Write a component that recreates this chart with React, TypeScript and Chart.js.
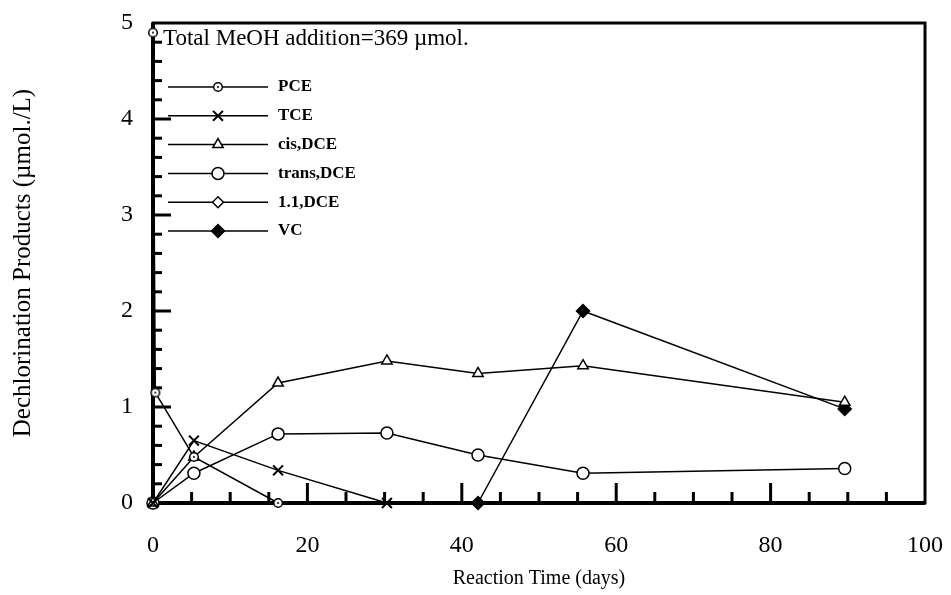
import React, { useEffect, useRef } from 'react';
import { Chart, registerables } from 'chart.js';
import { drawPoint } from 'chart.js/helpers';

Chart.register(...registerables);

// ---- data ----
const pceDays = [0, 0.3, 5.3, 16.2];
const pceValues = [4.9, 1.15, 0.48, 0];
const tceDays = [0, 5.3, 16.2, 30.3];
const tceValues = [0, 0.65, 0.34, 0];
const cisDays = [0, 5.3, 16.2, 30.3, 42.1, 55.7, 89.6];
const cisValues = [0, 0.48, 1.25, 1.48, 1.35, 1.43, 1.05];
const transDays = [0, 5.3, 16.2, 30.3, 42.1, 55.7, 89.6];
const transValues = [0, 0.31, 0.72, 0.73, 0.5, 0.31, 0.36];
const dce11Days = [0];
const dce11Values = [0];
const vcDays = [42.1, 55.7, 89.6];
const vcValues = [0, 2.0, 0.98];

const seriesLabels = ['PCE', 'TCE', 'cis,DCE', 'trans,DCE', '1.1,DCE', 'VC'];
const xTitle = 'Reaction Time (days)';
const yTitle = 'Dechlorination Products (\u00b5mol./L)';
const noteText = 'Total MeOH addition=369 \u00b5mol.';
const xMin = 0, xMax = 100, xStep = 20, xMinorStep = 5;
const yMin = 0, yMax = 5, yStep = 1, yMinorStep = 0.2;

const SERIF = '"Liberation Serif", "Times New Roman", serif';

function pts(xs: number[], ys: number[]) {
  return xs.map((x, i) => ({ x, y: ys[i] }));
}

function makeDotCircle(): HTMLCanvasElement {
  const c = document.createElement('canvas');
  c.width = 12; c.height = 12;
  const g = c.getContext('2d')!;
  g.beginPath();
  g.arc(6, 6, 4.3, 0, Math.PI * 2);
  g.fillStyle = '#fff';
  g.fill();
  g.lineWidth = 1.5;
  g.strokeStyle = '#000';
  g.stroke();
  g.beginPath();
  g.arc(6, 6, 1, 0, Math.PI * 2);
  g.fillStyle = '#000';
  g.fill();
  return c;
}

const framePlugin = {
  id: 'frameTicks',
  beforeDatasetsDraw(chart: any) {
    const { ctx, chartArea: a, scales } = chart;
    const xs = scales.x, ys = scales.y;
    ctx.save();
    ctx.strokeStyle = '#000';
    ctx.lineWidth = 3;
    for (let v = xMin + xMinorStep; v < xMax; v += xMinorStep) {
      const px = xs.getPixelForValue(v);
      const r = v / xStep;
      const major = Math.abs(r - Math.round(r)) < 1e-6;
      const len = major ? 20 : 11;
      ctx.beginPath();
      ctx.moveTo(px, a.bottom);
      ctx.lineTo(px, a.bottom - len);
      ctx.stroke();
    }
    for (let v = yMin + yMinorStep; v < yMax - 1e-6; v += yMinorStep) {
      const py = ys.getPixelForValue(v);
      const r = v / yStep;
      const major = Math.abs(r - Math.round(r)) < 1e-6;
      const len = major ? 18 : 9;
      ctx.beginPath();
      ctx.moveTo(a.left, py);
      ctx.lineTo(a.left + len, py);
      ctx.stroke();
    }
    ctx.lineWidth = 3;
    ctx.strokeRect(a.left, a.top, a.right - a.left, a.bottom - a.top);
    ctx.lineWidth = 4;
    ctx.beginPath();
    ctx.moveTo(a.left, a.top);
    ctx.lineTo(a.left, a.bottom);
    ctx.lineTo(a.right, a.bottom);
    ctx.stroke();
    ctx.restore();
  },
  afterDatasetsDraw(chart: any) {
    const { ctx, chartArea: a } = chart;
    ctx.save();
    ctx.fillStyle = '#000';
    ctx.font = `23px ${SERIF}`;
    ctx.textBaseline = 'alphabetic';
    ctx.textAlign = 'left';
    ctx.fillText(noteText, a.left + 10, a.top + 22);
    const lx0 = a.left + 15, lx1 = a.left + 115, mx = a.left + 65, tx = a.left + 125;
    const y0 = a.top + 64, dy = 28.8;
    chart.data.datasets.forEach((ds: any, i: number) => {
      const y = y0 + i * dy;
      ctx.strokeStyle = '#000';
      ctx.lineWidth = 1.5;
      ctx.beginPath();
      ctx.moveTo(lx0, y);
      ctx.lineTo(lx1, y);
      ctx.stroke();
      ctx.fillStyle = ds.pointBackgroundColor;
      ctx.strokeStyle = ds.pointBorderColor;
      ctx.lineWidth = ds.pointBorderWidth;
      drawPoint(ctx, { pointStyle: ds.pointStyle, rotation: 0, radius: ds.pointRadius, borderWidth: ds.pointBorderWidth }, mx, y);
      ctx.fillStyle = '#000';
      ctx.font = `bold 17px ${SERIF}`;
      ctx.textBaseline = 'middle';
      ctx.fillText(ds.label, tx, y);
    });
    ctx.restore();
  },
};

export default function App() {
  const ref = useRef<HTMLCanvasElement>(null);
  useEffect(() => {
    const dot = makeDotCircle();
    const base = {
      borderColor: '#000',
      borderWidth: 1.5,
      pointBorderColor: '#000',
      pointBackgroundColor: '#fff',
      pointBorderWidth: 1.5,
      showLine: true,
      clip: false as any,
    };
    const chart = new Chart(ref.current!, {
      type: 'scatter',
      data: {
        datasets: [
          { ...base, label: seriesLabels[0], data: pts(pceDays, pceValues), pointStyle: dot as any, pointRadius: 5 },
          { ...base, label: seriesLabels[1], data: pts(tceDays, tceValues), pointStyle: 'crossRot', pointRadius: 7, pointBorderWidth: 2 },
          { ...base, label: seriesLabels[2], data: pts(cisDays, cisValues), pointStyle: 'triangle', pointRadius: 6 },
          { ...base, label: seriesLabels[3], data: pts(transDays, transValues), pointStyle: 'circle', pointRadius: 6 },
          { ...base, label: seriesLabels[4], data: pts(dce11Days, dce11Values), pointStyle: 'rectRot', pointRadius: 5.5 },
          { ...base, label: seriesLabels[5], data: pts(vcDays, vcValues), pointStyle: 'rectRot', pointRadius: 6.5, pointBackgroundColor: '#000' },
        ],
      },
      options: {
        responsive: false,
        animation: false,
        events: [],
        layout: { padding: { left: 0, right: 26, top: 23, bottom: 0 } },
        plugins: { legend: { display: false }, tooltip: { enabled: false } },
        scales: {
          x: {
            type: 'linear',
            min: xMin,
            max: xMax,
            grid: { display: false, drawTicks: false },
            border: { display: false },
            ticks: { stepSize: xStep, color: '#000', font: { family: SERIF, size: 24 }, padding: 28, maxRotation: 0 },
            title: { display: true, text: xTitle, color: '#000', font: { family: SERIF, size: 20 }, padding: { top: 0, bottom: 4 } },
            afterFit(scale: any) {
              scale.height = 92;
              scale.paddingLeft = 0;
              scale.paddingRight = 0;
            },
          },
          y: {
            type: 'linear',
            min: yMin,
            max: yMax,
            grid: { display: false, drawTicks: false },
            border: { display: false },
            ticks: { stepSize: yStep, color: '#000', font: { family: SERIF, size: 24 }, padding: 20 },
            title: { display: true, text: yTitle, color: '#000', font: { family: SERIF, size: 25 }, padding: { top: 8, bottom: 0 } },
            afterFit(scale: any) {
              scale.width = 153;
              scale.paddingTop = 0;
              scale.paddingBottom = 0;
            },
          },
        },
      },
      plugins: [framePlugin],
    });
    return () => chart.destroy();
  }, []);
  return (
    <div style={{ position: 'fixed', left: 0, top: 0, width: 951, height: 595, background: '#fff' }}>
      <canvas ref={ref} width={951} height={595} style={{ width: 951, height: 595, display: 'block' }} />
    </div>
  );
}
